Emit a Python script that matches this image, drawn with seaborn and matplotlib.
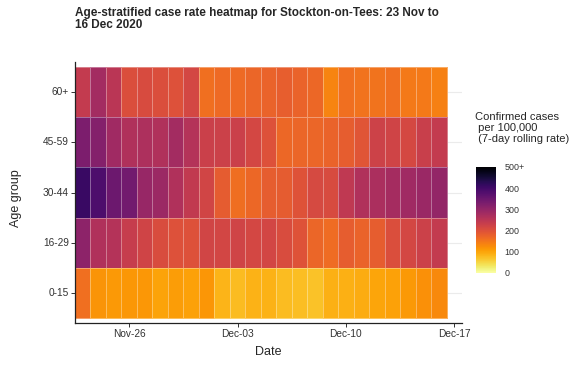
import numpy as np
import pandas as pd
import matplotlib
matplotlib.use("Agg")
import matplotlib.pyplot as plt
import seaborn as sns

# Datos (casos por 100.000, media de 7 días)
dates = pd.date_range("2020-11-23", "2020-12-16")
age_groups = ["60+", "45-59", "30-44", "16-29", "0-15"]

rate_60plus = [240, 280, 250, 205, 210, 205, 200, 215, 160, 165, 165, 170,
               175, 180, 175, 168, 135, 160, 155, 155, 160, 148, 148, 140]
rate_45_59 = [330, 320, 285, 265, 268, 265, 280, 258, 230, 228, 230, 215,
              200, 168, 170, 170, 175, 183, 195, 225, 222, 213, 232, 240]
rate_30_44 = [410, 385, 348, 340, 295, 290, 265, 242, 220, 185, 162, 168,
              182, 185, 198, 212, 210, 245, 265, 270, 278, 285, 292, 300]
rate_16_29 = [308, 265, 258, 235, 222, 208, 200, 200, 220, 218, 222, 215,
              217, 208, 198, 170, 163, 182, 175, 183, 205, 215, 227, 240]
rate_0_15 = [160, 118, 112, 115, 115, 103, 108, 104, 117, 85, 78, 86,
             86, 77, 75, 72, 88, 88, 92, 100, 104, 112, 122, 130]

xtick_dates = ["2020-11-26", "2020-12-03", "2020-12-10", "2020-12-17"]
xtick_labels = ["Nov-26", "Dec-03", "Dec-10", "Dec-17"]
cbar_ticks = [0, 100, 200, 300, 400, 500]
cbar_labels = ["0", "100", "200", "300", "400", "500+"]

tabla = pd.DataFrame([rate_60plus, rate_45_59, rate_30_44, rate_16_29, rate_0_15],
                     index=age_groups, columns=dates)

sns.set_style("white")
plt.rcParams["font.family"] = ["Liberation Sans", "DejaVu Sans"]

fig = plt.figure(figsize=(5.81, 3.65), dpi=100)
ax = fig.add_axes([75 / 581, 1 - 323 / 365, 387 / 581, 261 / 365])
cax = fig.add_axes([476 / 581, 1 - 273 / 365, 20 / 581, 106 / 365])

sns.heatmap(tabla, ax=ax, cbar_ax=cax, cmap="inferno_r", vmin=0, vmax=500,
            linewidths=0.6, linecolor=(1, 1, 1, 0.35))

# Rejilla de fondo y límites tipo ggplot
ax.set_axisbelow(True)
ax.grid(axis="y", color="#ebebeb", linewidth=0.8)
ax.set_xlim(0, 25)
ax.set_ylim(5.1, -0.1)

start = dates[0]
xpos = [(pd.Timestamp(d) - start).days + 0.5 for d in xtick_dates]
ax.set_xticks(xpos)
ax.set_xticklabels(xtick_labels, rotation=0, fontsize=7.3, color="#333333")
ax.set_yticks(np.arange(len(age_groups)) + 0.5)
ax.set_yticklabels(age_groups, rotation=0, fontsize=7.3, color="#333333")
ax.tick_params(axis="both", length=3, width=0.7, color="#333333", pad=1.5, bottom=True, left=True)

for s in ["top", "right"]:
    ax.spines[s].set_visible(False)
for s in ["left", "bottom"]:
    ax.spines[s].set_visible(True)
    ax.spines[s].set_color("#222222")
    ax.spines[s].set_linewidth(0.9)

ax.set_xlabel("Date", fontsize=9)
ax.set_ylabel("Age group", fontsize=9)
ax.xaxis.set_label_coords(0.5, (323 - 352) / 261)
ax.xaxis.label.set_va("center")
ax.yaxis.set_label_coords((16 - 75) / 387, 0.48)
ax.yaxis.label.set_va("center")

# Barra de color
cbar = ax.collections[0].colorbar
cbar.set_ticks(cbar_ticks)
cbar.set_ticklabels(cbar_labels)
cbar.outline.set_visible(False)
cax.tick_params(direction="in", length=3, width=0.5, color="white", left=True, right=True,
                labelsize=6.4, labelcolor="#333333", pad=6)
fig.text(475 / 581, 1 - 112 / 365, "Confirmed cases\n per 100,000\n (7-day rolling rate)",
         fontsize=8, va="top", ha="left", linespacing=1.1)

fig.text(75 / 581, 1 - 7 / 365,
         "Age-stratified case rate heatmap for Stockton-on-Tees: 23 Nov to\n16 Dec 2020",
         fontsize=8.5, fontweight="bold", va="top", ha="left", linespacing=0.95)

fig.savefig("out.png", dpi=100)
